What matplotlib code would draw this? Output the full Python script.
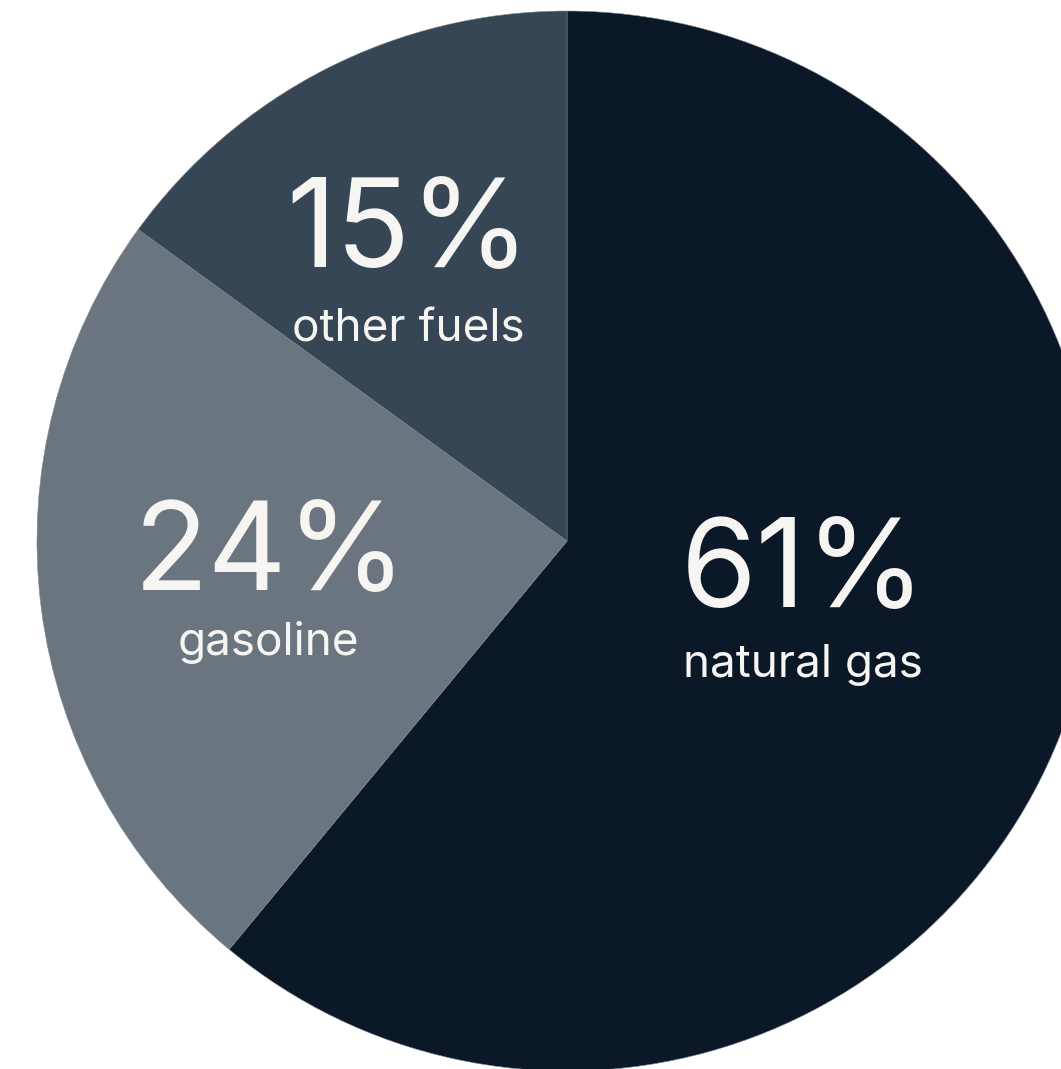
import matplotlib
matplotlib.use("Agg")
from matplotlib import pyplot as plt

# fuel shares, drawn clockwise from 12 o'clock
fuels = ["natural gas", "gasoline", "other fuels"]
shares = [61, 24, 15]
colors = ["#0b1828", "#6b7580", "#364655"]

# label anchor points (data units, pie radius = 1)
pct_pos = [(0.447, -0.124), (-0.560, -0.092), (-0.300, 0.517)]
name_pos = [(0.445, -0.257), (-0.564, -0.215), (-0.300, 0.377)]

W, H = 1061, 1069
cx, cy, r = 567, 541, 530

fig = plt.figure(figsize=(W / 100, H / 100), dpi=100)
ax = fig.add_axes([0, 0, 1, 1])

ax.pie(shares, colors=colors, startangle=90, counterclock=False, radius=1.0,
       wedgeprops=dict(edgecolor="#7d8791", linewidth=0.4))

for pct, name, p1, p2 in zip(shares, fuels, pct_pos, name_pos):
    ax.text(p1[0], p1[1], f"{pct}%", ha="center", va="baseline",
            fontsize=88, color="#f7f5f2", family="Inter")
    ax.text(p2[0], p2[1], name, ha="center", va="baseline",
            fontsize=33, color="#f7f5f2", family="Inter")

ax.set_xlim(-cx / r, (W - cx) / r)
ax.set_ylim(-(H - cy) / r, cy / r)
ax.set_aspect("auto")
ax.axis("off")

plt.savefig("out.png", dpi=100, facecolor="white")
